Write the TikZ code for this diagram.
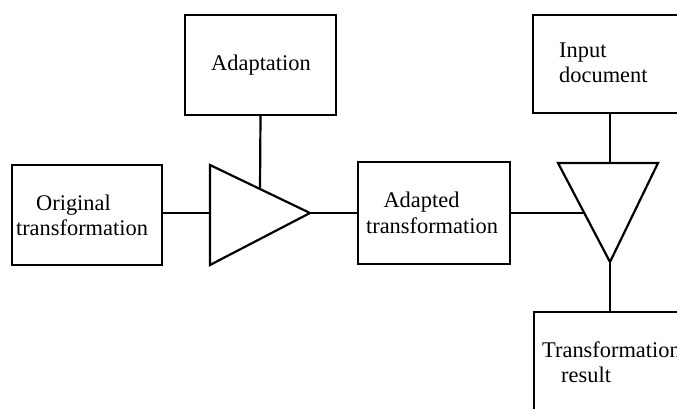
\documentclass[tikz,border=0pt]{standalone}
\usepackage{fontspec}
\setmainfont{Liberation Serif}
\begin{document}
\begin{tikzpicture}[x=1pt,y=-1pt,
  box/.style={draw=black, line width=2.2pt, inner sep=0pt},
  lbl/.style={font=\fontsize{22.4}{25}\selectfont, inner sep=0pt},
  wire/.style={draw=black, line width=2.2pt},
  tri/.style={draw=black, line width=2.2pt, line join=miter}]
\useasboundingbox (0,0) rectangle (677,409);
\clip (0,0) rectangle (677,409);
% boxes
\node[box, minimum width=151pt, minimum height=100pt] (adapt) at (260.5,65) {};
\node[box, minimum width=150pt, minimum height=100pt] (orig) at (87,215) {};
\node[box, minimum width=152pt, minimum height=102pt] (adapted) at (434,213) {};
\node[box, minimum width=160pt, minimum height=98pt] (input) at (613,64) {};
\node[box, minimum width=160pt, minimum height=110pt] (result) at (614,367) {};
% triangles
\coordinate (t1a) at (210,165);
\coordinate (t1b) at (210,265);
\coordinate (t1tip) at (310,213);
\coordinate (t1in) at (210,213);
\coordinate (t1top) at (260,189);
\draw[tri] (t1a) -- (t1b) -- (t1tip) -- cycle;
\coordinate (t2a) at (558,163);
\coordinate (t2b) at (658,163);
\coordinate (t2tip) at (610,262);
\coordinate (t2in) at (583.5,213);
\coordinate (t2top) at (610,163);
\draw[tri] (t2a) -- (t2b) -- (t2tip) -- cycle;
% connectors
\draw[wire] (adapt.south) -- (t1top);
\draw[wire] (t1in -| orig.east) -- (t1in);
\draw[wire] (t1tip) -- (adapted.west);
\draw[wire] (adapted.east) -- (t2in);
\draw[wire] (input.south -| t2top) -- (t2top);
\draw[wire] (t2tip) -- (result.north -| t2tip);
% labels
\node[lbl, anchor=base] (l1) at (261,71) {Adaptation};
\node[lbl, anchor=base] (l2a) at (73.5,210) {Original};
\node[lbl, anchor=base] (l2b) at (82,235) {transformation};
\node[lbl, anchor=base] (l3a) at (421.5,207) {Adapted};
\node[lbl, anchor=base] (l3b) at (432,233) {transformation};
\node[lbl, anchor=base west] (l4a) at (559,58) {Input};
\node[lbl, anchor=base west] (l4b) at (559,83) {document};
\node[lbl, anchor=base west] (l5a) at (542,357) {Transformation};
\node[lbl, anchor=base west] (l5b) at (561,382) {result};
\end{tikzpicture}
\end{document}
